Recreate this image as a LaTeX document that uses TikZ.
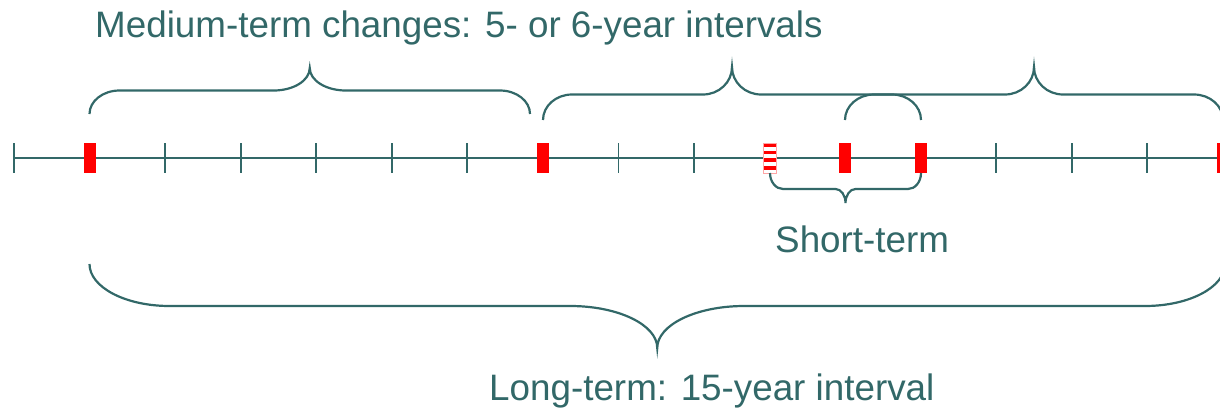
\documentclass[tikz,border=0pt]{standalone}
\usepackage{fontspec}
\setmainfont{Liberation Sans}
\definecolor{inkteal}{RGB}{50,104,104}
\definecolor{markred}{RGB}{255,0,0}

\tikzset{
  axisline/.style={draw=inkteal, line width=1.8pt},
  tickmark/.style={draw=inkteal, line width=1.8pt},
  yearbar/.style={fill=markred, draw=none, minimum width=12pt, minimum height=30pt, inner sep=0pt},
  stripedbar/.style={fill=white, draw=markred!35, line width=0.6pt, minimum width=13pt, minimum height=30pt, inner sep=0pt,
    path picture={
      \foreach \k in {0,1,2,3}{
        \fill[markred] ([yshift={-\k*7.7pt}]path picture bounding box.north west)
          rectangle ([yshift={-\k*7.7pt-3.6pt}]path picture bounding box.north east);
      }
    }},
  bracestroke/.style={draw=inkteal, line width=2.2pt},
  caption/.style={text=inkteal, font=\fontsize{36.8}{40}\selectfont, inner sep=0pt, anchor=base west},
}

% curly brace: start x, end x, end y, level y, tip y, end radius, tip radius
\newcommand\spanbrace[7]{%
  \pgfmathsetmacro\xt{(#1+#2)/2}%
  \draw[bracestroke] (#1,#3)
    .. controls (#1,{#3+0.5523*(#4-#3)}) and ({#1+0.4477*#6},#4) .. ({#1+#6},#4)
    -- ({\xt-#7},#4)
    .. controls ({\xt-0.4477*#7},#4) and (\xt,{#5+0.5523*(#4-#5)}) .. (\xt,#5)
    .. controls (\xt,{#5+0.5523*(#4-#5)}) and ({\xt+0.4477*#7},#4) .. ({\xt+#7},#4)
    -- ({#2-#6},#4)
    .. controls ({#2-0.4477*#6},#4) and (#2,{#3+0.5523*(#4-#3)}) .. (#2,#3);%
}

\begin{document}
\begin{tikzpicture}[x=1pt, y=-1pt]
  \useasboundingbox (0,0) rectangle (1220,407);

  % time axis with yearly ticks
  \coordinate (axisL) at (14,158.3);
  \coordinate (axisR) at (1226,158.3);
  \draw[axisline] (axisL) -- (axisR);
  \foreach \i in {0,...,16}{
    \draw[tickmark] ({14+75.55*\i},143) -- ({14+75.55*\i},173);
  }

  % survey years
  \node[yearbar] (y1)  at ({14+75.55*1},158) {};
  \node[yearbar] (y7)  at ({14+75.55*7},158) {};
  \node[stripedbar] (y10) at ({14+75.55*10},158) {};
  \node[yearbar] (y11) at ({14+75.55*11},158) {};
  \node[yearbar] (y12) at ({14+75.55*12},158) {};
  \node[yearbar] (y16) at ({14+75.55*16},158) {};

  % medium-term braces
  \spanbrace{89.5}{530}{114}{90.5}{68}{30}{36}
  \spanbrace{543}{921}{120}{94.5}{67}{29}{29}
  \spanbrace{845}{1223}{120}{94.5}{67}{29}{29}

  % short-term brace
  \spanbrace{770}{921}{173}{189}{203}{13}{10}

  % long-term brace
  \spanbrace{89.5}{1225}{264}{306}{348}{80}{87}

  % labels
  \node[caption] (medium) at (95,37) {Medium-term changes: 5- or 6-year intervals};
  \node[caption] (short)  at (775,252) {Short-term};
  \node[caption] (long)   at (489,400.5) {Long-term: 15-year interval};
\end{tikzpicture}
\end{document}
